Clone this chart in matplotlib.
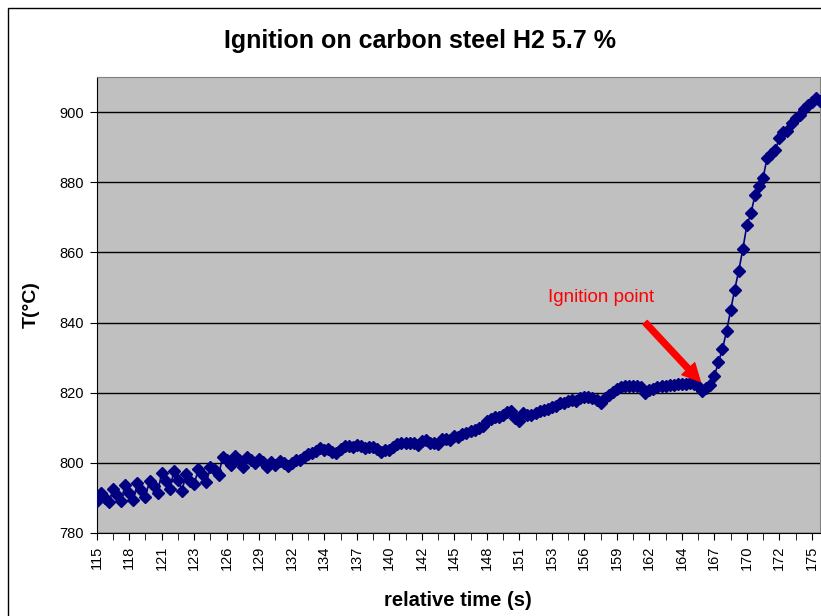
import numpy as np
import matplotlib
matplotlib.use('Agg')
import matplotlib.pyplot as plt
from matplotlib.patches import Rectangle

plt.rcParams['font.family'] = ['Liberation Sans', 'DejaVu Sans']

# category labels shown on the time axis (every 8th sample)
time_labels = ['115', '118', '121', '123', '126', '129', '132', '134', '137',
               '140', '142', '145', '148', '151', '153', '156', '159', '162',
               '164', '167', '170', '172', '175']

# temperature samples (deg C)
temperature = [
    789.2, 791.3, 790.1, 788.7, 792.5, 790.9, 789.1, 793.7, 791.3, 789.4,
    794.2, 792.3, 790.4, 794.9, 793.4, 791.5, 797.2, 794.9, 792.5, 797.7,
    795.1, 792.1, 796.8, 794.9, 793.9, 798.2, 796.9, 794.5, 798.8, 798.0,
    796.4, 801.8, 800.7, 799.4, 802.0,
    800.9, 798.9, 801.8, 800.7, 799.9, 801.0, 800.1, 798.8, 800.1, 799.4,
    800.4, 799.9, 799.1, 799.9, 800.7, 800.9, 801.8, 802.5, 802.8, 803.5,
    804.2, 803.7, 803.9, 803.2, 802.9, 803.9, 804.9, 804.7, 804.5, 805.1,
    804.9, 804.2,
    804.5, 804.5, 803.9, 803.2, 803.7, 803.7, 804.5, 805.4, 805.6, 805.6,
    805.8, 805.6, 805.1, 806.1, 806.4, 805.8, 805.8, 805.3, 806.8, 806.8,
    806.6, 807.7, 807.5, 808.3, 808.5, 809.2, 809.4, 809.9, 810.4, 811.8,
    812.5, 813.0, 813.2, 813.7,
    814.4, 814.7, 812.8, 811.8,
    814.2, 813.7, 813.7, 814.2, 814.7, 815.2, 815.3, 815.9, 816.3, 817.0,
    817.0, 817.5, 817.9, 817.5, 818.5, 818.9, 818.8, 818.5, 817.9, 817.0,
    818.5, 819.4, 820.1, 821.0, 821.6, 821.8, 822.0, 822.0, 822.0,
    821.5, 820.0, 820.7, 821.1, 821.6,
    821.8, 822.0, 822.3, 822.3, 822.6, 822.6, 822.6, 822.8, 822.6, 822.0,
    820.4, 821.3, 822.3, 824.7, 828.7,
    832.5, 837.5, 843.5, 849.4, 854.7, 860.9, 867.7, 871.1, 876.3, 878.9,
    881.3, 887.0, 888.0, 889.2, 892.5, 894.4, 894.7, 897.0, 898.2, 899.1,
    900.9, 902.0, 902.9, 903.9, 903.2,
]

label_step = 8
tick_step = 4

fig = plt.figure(figsize=(8.21, 6.16), dpi=100)
ax = fig.add_axes([96.7 / 821, 1 - 533 / 616, (820 - 96.7) / 821, (533 - 77) / 616])

ax.set_facecolor('#C0C0C0')
x = np.arange(len(temperature))
ax.plot(x, temperature, color='#000080', lw=1.2, marker='D', markersize=5.8,
        markerfacecolor='#000080', markeredgecolor='#000080', zorder=3)

ax.set_xlim(0, len(temperature) - 1)
ax.set_ylim(780, 910)
ax.set_yticks(range(780, 901, 20))
ax.yaxis.grid(True, color='black', lw=1)
ax.set_axisbelow(True)

ax.set_xticks(x[::label_step][:len(time_labels)])
ax.set_xticklabels(time_labels, rotation=90, fontsize=10.5)
ax.set_xticks(x[::tick_step], minor=True)
ax.tick_params(axis='x', which='both', direction='out', length=5, color='black', pad=4)
ax.tick_params(axis='y', direction='out', length=5, labelsize=10.5, pad=4)

for s in ['top', 'right']:
    ax.spines[s].set_color('#808080')
for s in ['left', 'bottom']:
    ax.spines[s].set_color('black')

ax.set_xlabel('relative time (s)', fontsize=14.5, fontweight='bold', labelpad=15)
ax.set_ylabel('T(°C)', fontsize=14, fontweight='bold', labelpad=14)
fig.text(0.512, 1 - 41 / 616, 'Ignition on carbon steel H2 5.7 %', ha='center',
         va='center', fontsize=18, fontweight='bold')

ax.annotate('', xy=(149, 822.6), xytext=(134.5, 840.6),
            arrowprops=dict(arrowstyle='simple,head_width=0.9,head_length=0.9,tail_width=0.3',
                            color='red', mutation_scale=14))
ax.text(124, 847.2, 'Ignition point', color='red', fontsize=13.5, ha='center', va='center')

fig.patches.append(Rectangle((8 / 821, -0.02), 1.0, 1 - 8 / 616 + 0.02,
                             transform=fig.transFigure, fill=False,
                             ec='black', lw=1))

fig.savefig('out.png', dpi=100)
